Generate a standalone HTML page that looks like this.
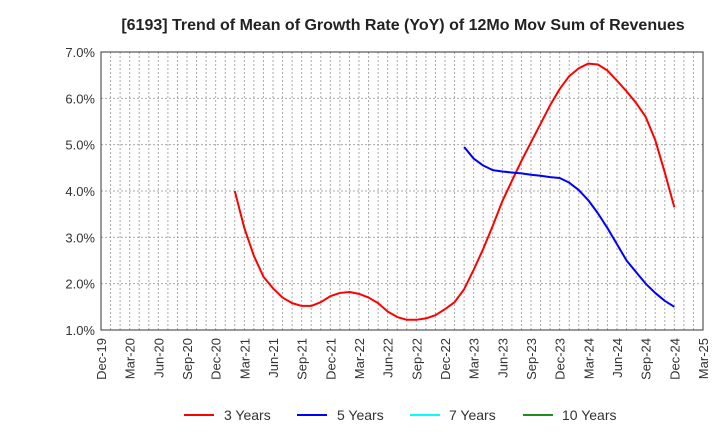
<!DOCTYPE html>
<html><head><meta charset="utf-8"><style>
body{margin:0;background:#fff;font-family:"Liberation Sans",Arial,sans-serif}
svg text{font-family:"Liberation Sans",Arial,sans-serif}
</style></head><body>
<svg id="chart" width="720" height="440">
<text x="403" y="30" text-anchor="middle" font-size="16" font-weight="bold" fill="#222">[6193]  Trend of Mean of Growth Rate (YoY) of 12Mo Mov Sum of Revenues</text>
<g id="grid"></g><g id="axes"></g><g id="series"></g>
<g>
<line x1="184" y1="415" x2="214" y2="415" stroke="#f00" stroke-width="2"/><text x="224" y="420" font-size="14" fill="#333">3 Years</text>
<line x1="297" y1="415" x2="327" y2="415" stroke="#00f" stroke-width="2"/><text x="337" y="420" font-size="14" fill="#333">5 Years</text>
<line x1="410" y1="415" x2="440" y2="415" stroke="#0ff" stroke-width="2"/><text x="449" y="420" font-size="14" fill="#333">7 Years</text>
<line x1="523" y1="415" x2="553" y2="415" stroke="#228b22" stroke-width="2"/><text x="562" y="420" font-size="14" fill="#333">10 Years</text>
</g>
</svg>
<script>
const tickLabels=["Dec-19","Mar-20","Jun-20","Sep-20","Dec-20","Mar-21","Jun-21","Sep-21","Dec-21","Mar-22","Jun-22","Sep-22","Dec-22","Mar-23","Jun-23","Sep-23","Dec-23","Mar-24","Jun-24","Sep-24","Dec-24","Mar-25"];
const yTicks=[1,2,3,4,5,6,7];
const red3yStart=14;
const red3y=[4.0,3.2,2.6,2.15,1.9,1.7,1.58,1.52,1.52,1.6,1.73,1.8,1.82,1.78,1.7,1.58,1.4,1.28,1.22,1.22,1.25,1.32,1.45,1.6,1.88,2.3,2.75,3.25,3.78,4.22,4.65,5.05,5.45,5.85,6.2,6.48,6.65,6.75,6.73,6.6,6.38,6.15,5.9,5.6,5.1,4.4,3.65];
const blue5yStart=38;
const blue5y=[4.95,4.7,4.55,4.45,4.42,4.4,4.38,4.35,4.33,4.3,4.28,4.18,4.02,3.8,3.52,3.2,2.85,2.5,2.25,2.0,1.8,1.63,1.5];
const X0=101,X1=703,Y0=330,Y1=52,NM=63;
const xs=m=>X0+(X1-X0)*m/NM;
const ys=v=>Y0-(v-1)*(Y0-Y1)/6;
const NS="http://www.w3.org/2000/svg";
function mk(t,a,p){const e=document.createElementNS(NS,t);for(const k in a)e.setAttribute(k,a[k]);p.appendChild(e);return e;}
const grid=document.getElementById('grid'),axes=document.getElementById('axes'),ser=document.getElementById('series');
for(let m=1;m<NM;m++){const l=mk('line',{x1:xs(m),x2:xs(m),y1:Y1,y2:Y0,stroke:'#aaa','stroke-dasharray':'2,2','stroke-width':1},grid);

}
yTicks.forEach(v=>{const l=mk('line',{x1:X0,x2:X1,y1:ys(v),y2:ys(v),stroke:'#aaa','stroke-dasharray':'2,2','stroke-width':1},grid);


const t=mk('text',{x:X0-6,y:ys(v)+5,'text-anchor':'end','font-size':13,fill:'#333'},axes);t.textContent=v.toFixed(1)+'%';

});
const r=mk('rect',{x:X0,y:Y1,width:X1-X0,height:Y0-Y1,fill:'none',stroke:'#333','stroke-width':1},axes);


tickLabels.forEach((s,i)=>{const x=xs(i*3);const t=mk('text',{x:0,y:0,'text-anchor':'end','font-size':13,fill:'#333',transform:`translate(${x+5},${Y0+8}) rotate(-90)`},axes);t.textContent=s;

});
function line(arr,start,color,name){const p=mk('polyline',{points:arr.map((v,i)=>xs(start+i)+','+ys(v)).join(' '),fill:'none',stroke:color,'stroke-width':2,'stroke-linejoin':'round'},ser);

}
line(red3y,red3yStart,'#f00','series-3-years');
line(blue5y,blue5yStart,'#00f','series-5-years');
</script>
</body></html>
